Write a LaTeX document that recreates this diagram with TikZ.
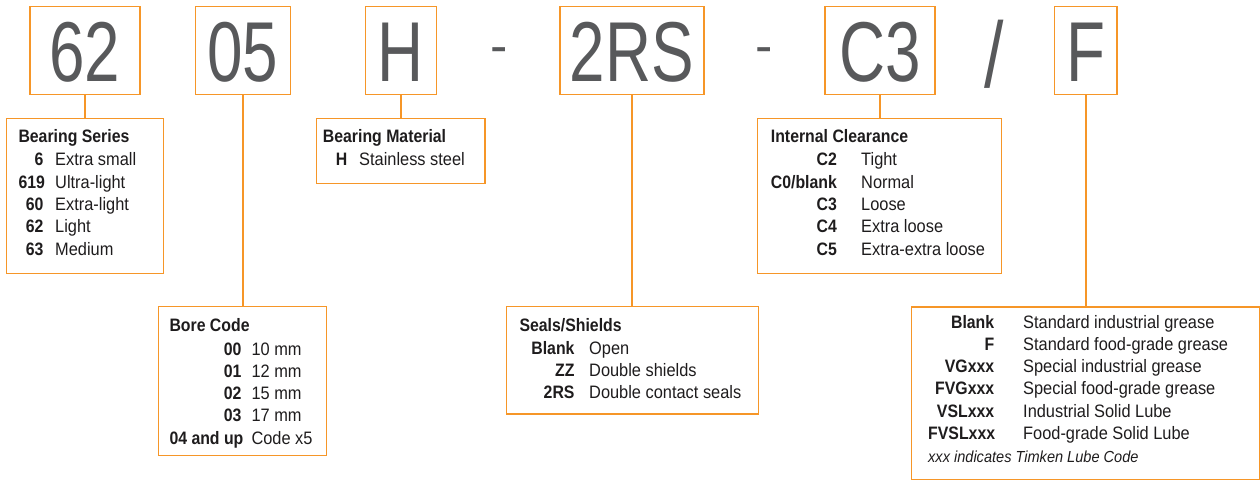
\documentclass[tikz,border=0pt]{standalone}
\usepackage{fontspec}
\usepackage{array}
\setmainfont{Liberation Sans}[FakeStretch=0.91, BoldFeatures={FakeStretch=0.88}]
\newfontfamily\bigfont{Liberation Sans}[FakeStretch=0.75]
\newfontfamily\dashfont{Liberation Sans}
\definecolor{tkorange}{RGB}{246,150,40}
\definecolor{tkgray}{RGB}{88,89,91}
\definecolor{tkink}{RGB}{30,28,29}
\newcolumntype{K}[1]{>{\raggedleft\bfseries\arraybackslash}p{#1}}

\begin{document}
\begin{tikzpicture}[x=1pt, y=-1pt,
    digitbox/.style={draw=tkorange, line width=1.5pt, inner sep=0pt,
      minimum height=87.6pt, text height=63pt, text depth=0pt,
      text=tkgray, font=\bigfont\fontsize{85}{85}\selectfont},
    keybox/.style={draw=tkorange, line width=1.5pt, inner sep=0pt},
    keytext/.style={anchor=base west, inner sep=0pt, text=tkink,
      font=\fontsize{18}{22.3}\selectfont},
    joiner/.style={anchor=base, inner sep=0pt, text=tkgray},
    link/.style={draw=tkorange, line width=1.5pt}]
      \useasboundingbox (0,0) rectangle (1260,481);
      %
      \node[digitbox, minimum width=110pt] (d62) at (85,50.5) {62};      % part number
      \node[digitbox, minimum width=95pt] (d05) at (242.8,50.5) {05};
      \node[digitbox, minimum width=71pt] (dH) at (400.8,50.5) {H};
      \node[digitbox, minimum width=144pt] (d2RS) at (631.8,50.5) {2RS};
      \node[digitbox, minimum width=110pt] (dC3) at (879.8,50.5) {C3};
      \node[digitbox, minimum width=62.7pt] (dF) at (1085.8,50.5) {F};
      %
      \node[joiner, font=\dashfont\fontsize{52}{52}\selectfont] (dashA) at (498.8,63.4) {-};
      \node[joiner, font=\dashfont\fontsize{52}{52}\selectfont] (dashB) at (763.8,63.4) {-};
      \node[joiner, font=\bigfont\fontsize{93}{93}\selectfont] (slash) at (994.2,88) {/};
      %
      \node[keybox, minimum width=156.6pt, minimum height=155pt] (series) at (85,195.8) {};  % legend boxes
      \node[keybox, minimum width=168.3pt, minimum height=65pt] (material) at (400.8,150.8) {};
      \node[keybox, minimum width=244.4pt, minimum height=155pt] (clearance) at (879.5,195.8) {};
      \node[keybox, minimum width=168.4pt, minimum height=149pt] (bore) at (242.5,381.2) {};
      \node[keybox, minimum width=251.6pt, minimum height=107.3pt] (seals) at (632.5,360.3) {};
      \node[keybox, minimum width=347.6pt, minimum height=172.6pt] (lube) at (1085.5,393.3) {};
      %
      \draw[link] (d62.south) -- (d62.south |- series.north);
      \draw[link] (d05.south) -- (d05.south |- bore.north);
      \draw[link] (dH.south) -- (dH.south |- material.north);
      \draw[link] (d2RS.south) -- (d2RS.south |- seals.north);
      \draw[link] (dC3.south) -- (dC3.south |- clearance.north);
      \draw[link] (dF.south) -- (dF.south |- lube.north);
      %
      \node[keytext] (seriestxt) at (18.3,142.7) {\begin{tabular}[t]{@{}K{25pt}@{\hspace{11.7pt}}l@{}}
        \multicolumn{2}{@{}l@{}}{\textbf{Bearing Series}}\\[1pt]
        6 & Extra small\\
        619 & Ultra-light\\
        60 & Extra-light\\
        62 & Light\\
        63 & Medium
      \end{tabular}};
      \node[keytext] (materialtxt) at (322.7,142.7) {\begin{tabular}[t]{@{}K{24.3pt}@{\hspace{12pt}}l@{}}
        \multicolumn{2}{@{}l@{}}{\textbf{Bearing Material}}\\[1pt]
        H & Stainless steel
      \end{tabular}};
      \node[keytext] (clearancetxt) at (770.7,142.7) {\begin{tabular}[t]{@{}K{66pt}@{\hspace{24.3pt}}l@{}}
        \multicolumn{2}{@{}l@{}}{\textbf{Internal Clearance}}\\[1pt]
        C2 & Tight\\
        C0/blank & Normal\\
        C3 & Loose\\
        C4 & Extra loose\\
        C5 & Extra-extra loose
      \end{tabular}};
      \node[keytext] (boretxt) at (169.3,331.7) {\begin{tabular}[t]{@{}K{72pt}@{\hspace{10pt}}l@{}}
        \multicolumn{2}{@{}l@{}}{\textbf{Bore Code}}\\[1pt]
        00 & 10 mm\\
        01 & 12 mm\\
        02 & 15 mm\\
        03 & 17 mm\\
        \mbox{04 and up} & Code x5
      \end{tabular}};
      \node[keytext] (sealstxt) at (519.3,331.7) {\begin{tabular}[t]{@{}K{55pt}@{\hspace{14.7pt}}l@{}}
        \multicolumn{2}{@{}l@{}}{\textbf{Seals/Shields}}\\[0.3pt]
        Blank & Open\\
        ZZ & Double shields\\
        2RS & Double contact seals
      \end{tabular}};
      \node[keytext] (lubetxt) at (928,328) {\begin{tabular}[t]{@{}K{66pt}@{\hspace{29pt}}l@{}}
        Blank & Standard industrial grease\\
        F & Standard food-grade grease\\
        VGxxx & Special industrial grease\\
        FVGxxx & Special food-grade grease\\
        VSLxxx & Industrial Solid Lube\\
        FVSLxxx & Food-grade Solid Lube\\[1pt]
        \multicolumn{2}{@{}l@{}}{\fontsize{16}{19}\selectfont\itshape xxx indicates Timken Lube Code}
      \end{tabular}};
      %
\end{tikzpicture}
\end{document}
